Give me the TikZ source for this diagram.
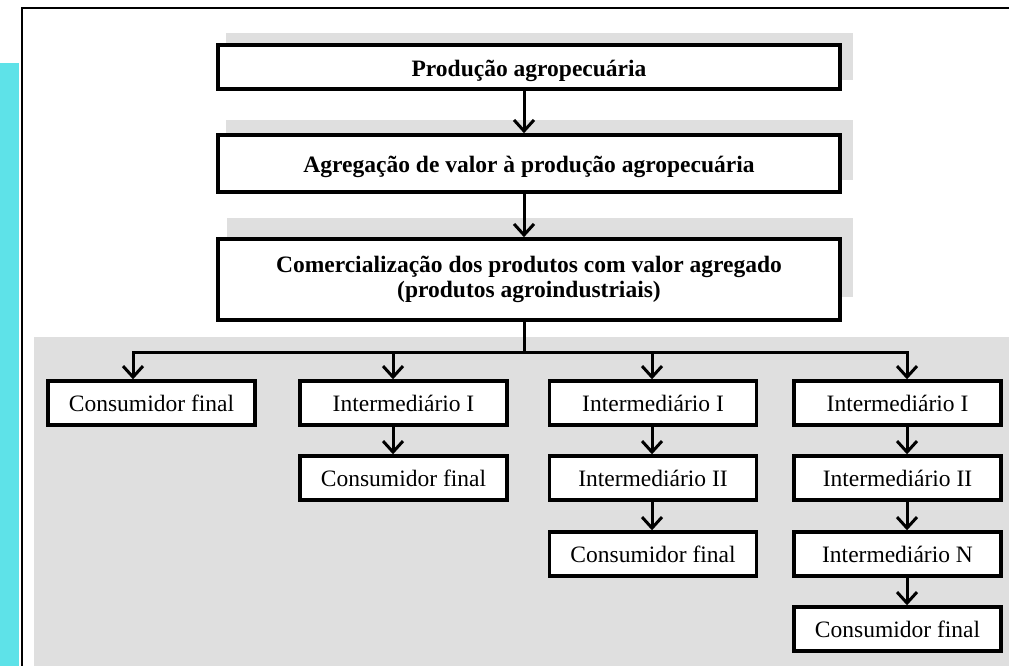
\documentclass[tikz,border=0pt]{standalone}
\usepackage{fontspec}
\setmainfont{Liberation Serif}
\usetikzlibrary{arrows.meta}
\definecolor{gbg}{HTML}{DFDFDF}
\definecolor{cyanbar}{HTML}{5EE2E8}
\begin{document}
\begin{tikzpicture}[x=1pt,y=-1pt,
  box/.style={draw=black,line width=3.6pt,fill=white,inner sep=0pt,minimum width=622pt,minimum height=44pt,
    font=\fontsize{23.5}{25.5}\selectfont\bfseries,align=center},
  sbox/.style={draw=black,line width=3.4pt,fill=white,inner sep=0pt,minimum width=207pt,minimum height=44pt,
    font=\fontsize{23.5}{25.5}\selectfont},
  conn/.style={line width=3pt},
  arr/.style={line width=3pt,-{Straight Barb[length=11pt,width=20pt]}},
  shade/.style={fill=gbg,draw=none}]
\useasboundingbox (0,0) rectangle (1009,666);
% background elements
\fill[cyanbar] (0,63) rectangle (19,666);
\draw[line width=2pt] (21.5,666) -- (21.5,8.5) -- (1009,8.5);
\fill[gbg] (34,337) rectangle (1009,666);
\fill[gbg] (226,33) rectangle (853,80);
\fill[gbg] (226,120) rectangle (853,180);
\fill[gbg] (227,218) rectangle (853,297);
% main boxes
\node[box,text height=20pt,text depth=0pt] (b1) at (529,67) {Produção agropecuária};
\node[box,minimum height=57pt,text height=18pt,text depth=1pt] (b2) at (529,163.5) {Agregação de valor à produção agropecuária};
\node[box,minimum height=81pt] (b3) at (529,279.5) {Comercialização dos produtos com valor agregado\\(produtos agroindustriais)};
% lower boxes
\node[sbox] (c11) at (151.5,403) {Consumidor final};
\node[sbox] (c21) at (403.5,403) {Intermediário I};
\node[sbox] (c22) at (403.5,478) {Consumidor final};
\node[sbox] (c31) at (653,403) {Intermediário I};
\node[sbox] (c32) at (653,478) {Intermediário II};
\node[sbox] (c33) at (653,554) {Consumidor final};
\node[sbox] (c41) at (897.5,403) {Intermediário I};
\node[sbox] (c42) at (897.5,478) {Intermediário II};
\node[sbox] (c43) at (897.5,554) {Intermediário N};
\node[sbox] (c44) at (897.5,629) {Consumidor final};
% connector coordinates
\coordinate (m) at (524,0);
\coordinate (bus) at (524,352);
\coordinate (a1) at (133,352);
\coordinate (a2) at (393,352);
\coordinate (a3) at (652,352);
\coordinate (a4) at (907,352);
% main arrows
\draw[arr] (b1.south -| m) -- (m |- b2.north);
\draw[arr] (b2.south -| m) -- (m |- b3.north);
\draw[conn] (b3.south -| m) -- (bus);
\draw[conn,line cap=rect] (a1) -- (a4);
% branch arrows
\draw[arr] (a1) -- (a1 |- c11.north);
\draw[arr] (a2) -- (a2 |- c21.north);
\draw[arr] (a3) -- (a3 |- c31.north);
\draw[arr] (a4) -- (a4 |- c41.north);
\draw[arr] (c21.south -| a2) -- (a2 |- c22.north);
\draw[arr] (c31.south -| a3) -- (a3 |- c32.north);
\draw[arr] (c32.south -| a3) -- (a3 |- c33.north);
\draw[arr] (c41.south -| a4) -- (a4 |- c42.north);
\draw[arr] (c42.south -| a4) -- (a4 |- c43.north);
\draw[arr] (c43.south -| a4) -- (a4 |- c44.north);
\end{tikzpicture}
\end{document}
